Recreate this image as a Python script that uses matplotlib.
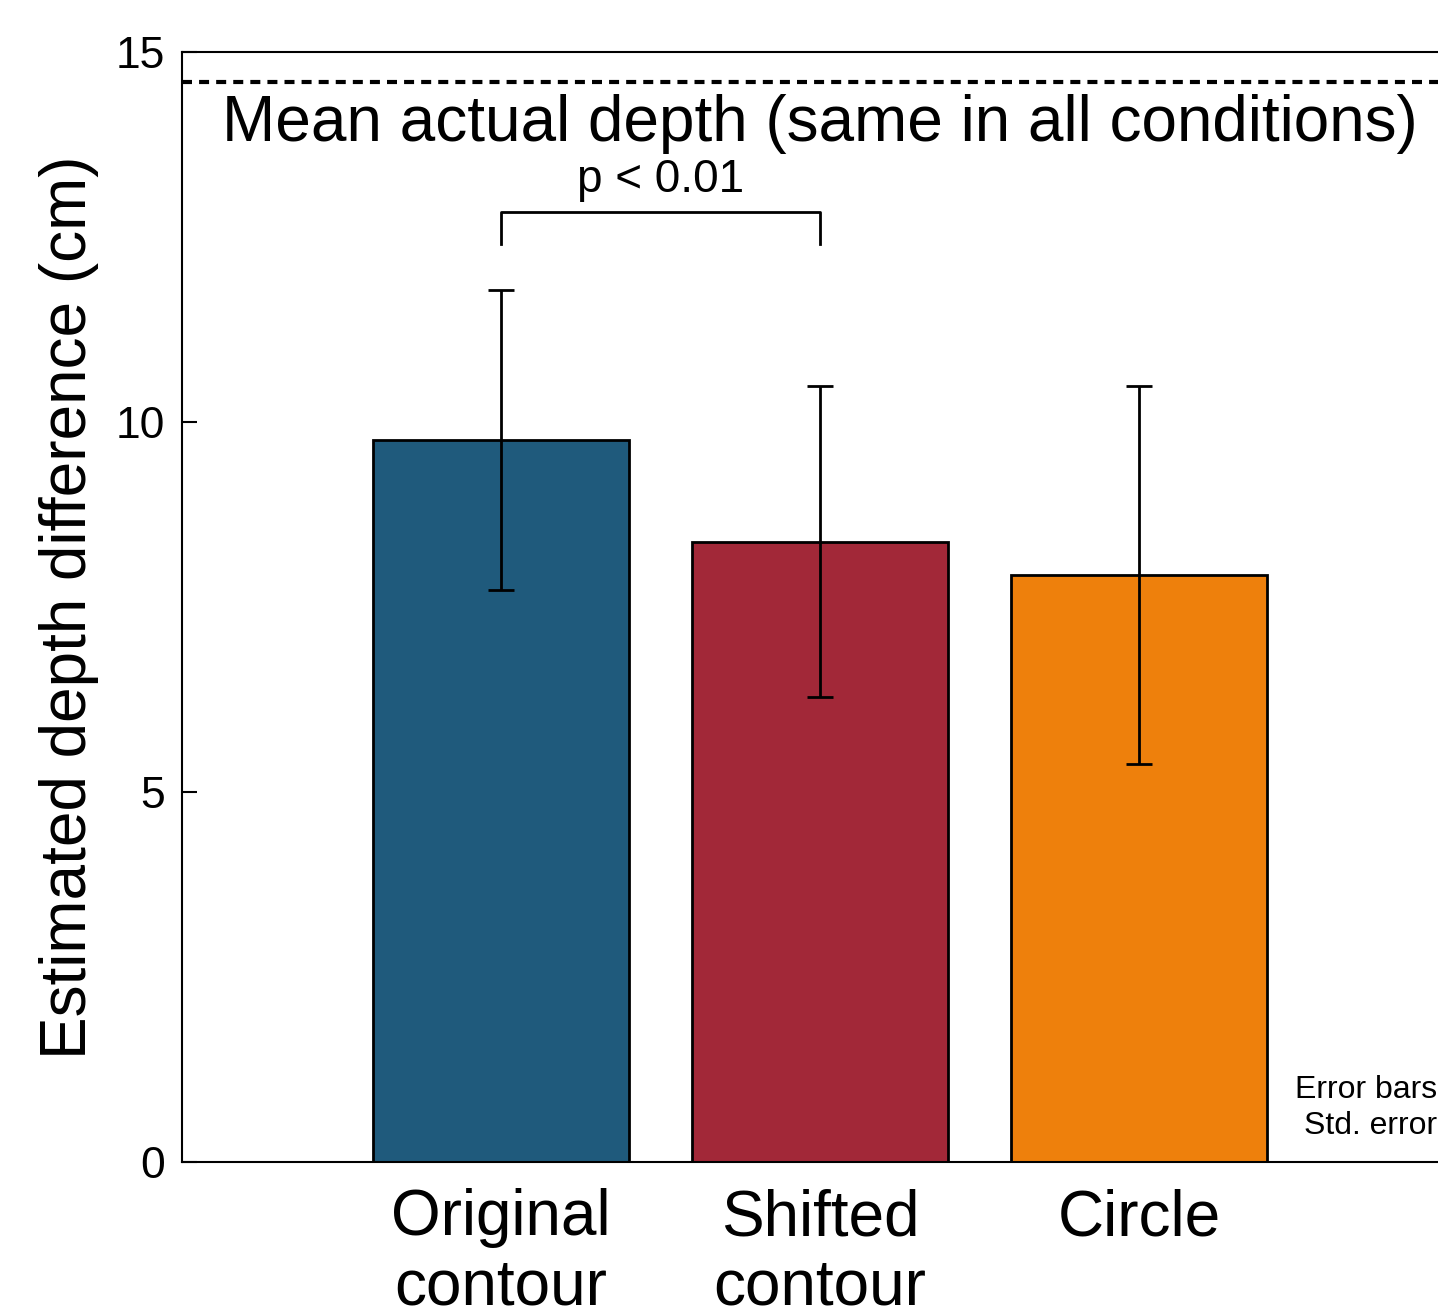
import matplotlib
matplotlib.use("Agg")
import matplotlib.pyplot as plt

plt.rcParams["font.family"] = ["Liberation Sans", "DejaVu Sans"]

# data
conditions = ["Original\ncontour", "Shifted\ncontour", "Circle"]
means = [9.76, 8.38, 7.93]
std_errors = [2.03, 2.10, 2.55]
colors = ["#1F5A7C", "#A22838", "#EE800C"]
actual_depth = 14.6
p_label = "p < 0.01"
bracket_y = 12.84
bracket_drop = 0.43

fig = plt.figure(figsize=(14.38, 13.14), dpi=100)
ax = fig.add_axes([0.1266, 0.1157, 0.8873, 0.8447])

x = list(range(1, len(conditions) + 1))
ax.bar(x, means, width=0.8, color=colors, edgecolor="black", linewidth=2, zorder=2)
ax.errorbar(x, means, yerr=std_errors, fmt="none", ecolor="black",
            elinewidth=2, capsize=9.5, capthick=2, zorder=3)

# mean actual depth line
ax.axhline(actual_depth, color="black", linestyle=(0, (2.4, 1.7)), linewidth=3, zorder=1)
ax.text(2.0, 14.43, "Mean actual depth (same in all conditions)",
        ha="center", va="top", fontsize=46)

# significance bracket between first two bars
ax.plot([x[0], x[0], x[1], x[1]],
        [bracket_y - bracket_drop, bracket_y, bracket_y, bracket_y - bracket_drop],
        color="black", linewidth=2)
ax.text((x[0] + x[1]) / 2, bracket_y + 0.14, p_label, ha="center", va="bottom", fontsize=33)

ax.set_xlim(0, 4)
ax.set_ylim(0, 15)
ax.set_xticks(x)
ax.set_xticklabels(conditions, fontsize=46)
ax.set_yticks([0, 5, 10, 15])
ax.tick_params(axis="y", direction="in", length=11, width=1.5, labelsize=32, pad=12)
ax.tick_params(axis="x", length=0, pad=19)
ax.set_ylabel("Estimated depth difference (cm)", fontsize=46, labelpad=12)

for s in ax.spines.values():
    s.set_linewidth(1.5)

fig.text(0.9993, 0.132, "Error bars\nStd. error", ha="right", va="bottom",
         fontsize=23, multialignment="right", linespacing=1.25)

fig.savefig("out.png", dpi=100)
